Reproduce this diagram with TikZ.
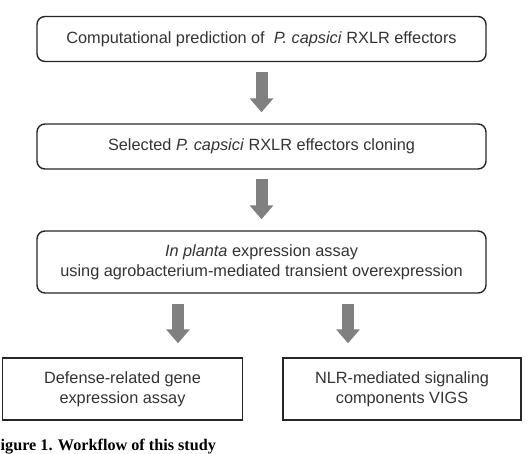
\documentclass[tikz,border=0pt]{standalone}
\usepackage{fontspec}
\setmainfont{Liberation Sans}
\newfontfamily\capfont{Liberation Serif}
\usetikzlibrary{arrows.meta}
\definecolor{arrowgray}{HTML}{808080}
\definecolor{boxline}{HTML}{262626}
\definecolor{boxtext}{HTML}{333333}
\tikzset{
  stagebox/.style={draw=boxline, line width=1.4pt, rounded corners=8pt, align=center,
    text=boxtext, inner sep=0pt, minimum width=449pt,
    font=\fontsize{16.3}{20}\selectfont},
  leafbox/.style={stagebox, rounded corners=0pt, minimum height=62pt},
  flowarrow/.style={draw=arrowgray, line width=12pt, shorten <=10pt, shorten >=11pt,
    -{Triangle[width=23pt,length=14pt]}}
}
\begin{document}
\begin{tikzpicture}[x=1pt,y=-1pt]
\useasboundingbox (0,0) rectangle (527,454);
\node[stagebox, minimum height=45pt] (pred) at (261.5,39) {Computational prediction of \ \textit{P. capsici} RXLR effectors};
\node[stagebox, minimum height=45pt] (clon) at (261.5,146.5) {Selected \textit{P. capsici} RXLR effectors cloning};
\node[stagebox, minimum height=62pt] (assay) at (261.5,262) {\textit{In planta} expression assay\\using agrobacterium-mediated transient overexpression};
\node[leafbox, minimum width=240pt] (defense) at (122.5,389) {Defense-related gene\\expression assay};
\node[leafbox, minimum width=238pt] (nlr) at (402,389) {NLR-mediated signaling\\components VIGS};
\coordinate (lx) at (178,0);
\coordinate (rx) at (348,0);
\draw[flowarrow] (pred) -- (clon);
\draw[flowarrow, shorten <=9pt] (clon) -- (assay);
\draw[flowarrow, shorten >=14pt] (assay.south -| lx) -- (defense.north -| lx);
\draw[flowarrow, shorten >=14pt] (assay.south -| rx) -- (nlr.north -| rx);
\node[anchor=base west, inner sep=0pt, font=\capfont\bfseries\fontsize{16.2}{19}\selectfont] (caption) at (0.5,450) {igure 1. Workflow of this study};
\end{tikzpicture}
\end{document}
